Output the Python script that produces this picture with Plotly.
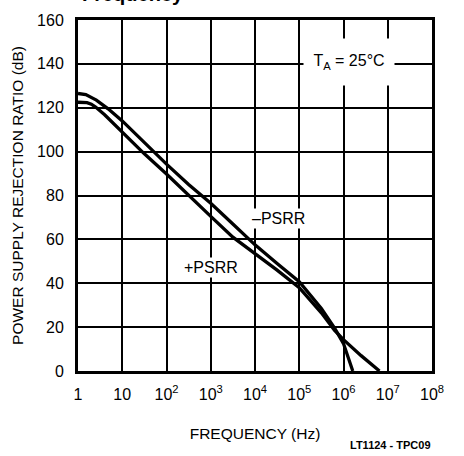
import plotly.graph_objects as go

# -PSRR (upper curve at low frequency)
freq_minus = [1, 1.5, 2.6, 4.8, 10, 31.6, 100, 316, 1000, 3160, 10000, 31600,
              100000, 316000, 630000, 1000000, 1260000, 1620000]
psrr_minus = [126.5, 126, 123.5, 119.5, 114, 104, 94.3, 85, 76.5, 67, 57.5, 49,
              40.7, 28.5, 19.5, 12.5, 7, 0]

# +PSRR (lower curve at low frequency)
freq_plus = [1, 1.6, 2.0, 2.5, 4.0, 6.3, 10, 31.6, 100, 316, 1000, 3160, 10000,
             31600, 100000, 316000, 630000, 1000000, 2500000, 6500000]
psrr_plus = [122.5, 122.3, 121.6, 120.3, 116.8, 112.8, 108.8, 99, 89.8, 80.4,
             70.5, 61, 53.5, 46, 38, 26.5, 18.5, 14.3, 7, 0]

x_tickvals = [1, 10, 100, 1e3, 1e4, 1e5, 1e6, 1e7, 1e8]
x_ticktext = ["1", "10", "10<sup>2</sup>", "10<sup>3</sup>", "10<sup>4</sup>",
              "10<sup>5</sup>", "10<sup>6</sup>", "10<sup>7</sup>", "10<sup>8</sup>"]
y_tickvals = [0, 20, 40, 60, 80, 100, 120, 140, 160]

FONT = "Liberation Sans, Arial, sans-serif"

W, H = 464, 456
pl, pr, pt, pb = 78, 32, 17, 85
pw, ph = W - pl - pr, H - pt - pb


def px_x(x):
    return (x - pl) / pw


def px_y(y):
    return 1 - (y - pt) / ph


fig = go.Figure()
for fx, fy, nm in [(freq_minus, psrr_minus, "-PSRR"), (freq_plus, psrr_plus, "+PSRR")]:
    fig.add_trace(go.Scatter(x=fx, y=fy, mode="lines", name=nm,
                             line=dict(color="black", width=3.3),
                             showlegend=False))

fig.update_layout(
    width=W, height=H,
    margin=dict(l=pl, r=pr, t=pt, b=pb),
    paper_bgcolor="white", plot_bgcolor="white",
    font=dict(family=FONT, color="black", size=16),
    xaxis=dict(type="log", range=[0, 8], tickvals=x_tickvals, ticktext=x_ticktext,
               showgrid=True, gridcolor="black", gridwidth=1.8,
               showline=True, linecolor="black", linewidth=3, mirror=True,
               ticks="", zeroline=False, ticklabelstandoff=7,
               tickfont=dict(size=16),
               title=dict(text="FREQUENCY (Hz)", font=dict(size=15.5), standoff=26)),
    yaxis=dict(range=[0, 160], tickvals=y_tickvals,
               showgrid=True, gridcolor="black", gridwidth=1.8,
               showline=True, linecolor="black", linewidth=3, mirror=True,
               ticks="", zeroline=False, ticklabelstandoff=8,
               tickfont=dict(size=16),
               title=dict(text="POWER SUPPLY REJECTION RATIO (dB)", font=dict(size=15.5),
                          standoff=10)),
    annotations=[
        dict(text="T<sub>A</sub> = 25°C", x=px_x(349), y=px_y(59), xref="paper", yref="paper",
             showarrow=False, bgcolor="white", width=88, height=44,
             font=dict(size=16), xanchor="center", yanchor="middle"),
        dict(text="–PSRR", x=4.52, y=69.5, xref="x", yref="y", showarrow=False,
             bgcolor="white", font=dict(size=16)),
        dict(text="+PSRR", x=3.0, y=47, xref="x", yref="y", showarrow=False,
             bgcolor="white", font=dict(size=16)),
        dict(text="<b>LT1124 - TPC09</b>", x=px_x(433), y=px_y(446), xref="paper", yref="paper",
             showarrow=False, font=dict(size=11), xanchor="right", yanchor="middle"),
        dict(text="<b>Frequency</b>", x=px_x(80), y=px_y(-9), xref="paper", yref="paper",
             showarrow=False, font=dict(size=20), xanchor="left", yanchor="middle"),
    ],
)

fig.write_html("out.html")
